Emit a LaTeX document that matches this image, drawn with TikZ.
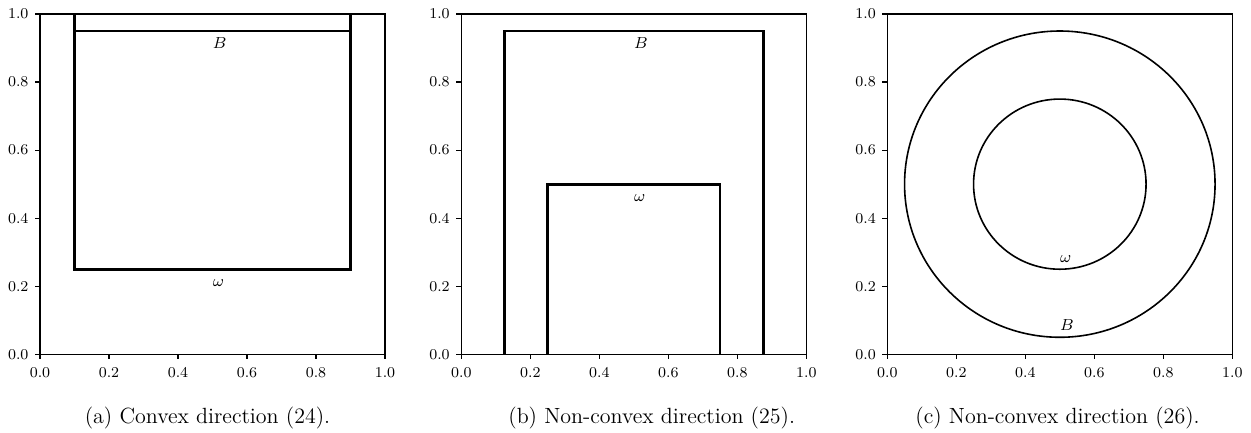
\documentclass[tikz,border=0pt]{standalone}

\begin{document}
\begin{tikzpicture}[x=0.5pt,y=0.5pt,
  spine/.style={line width=0.6pt},
  region/.style={line width=1.4pt},
  ring/.style={line width=0.8pt},
  ticklbl/.style={inner sep=0pt,font=\fontsize{7.5}{9}\selectfont},
  setlbl/.style={inner sep=0pt,anchor=base west,font=\fontsize{8}{9.5}\selectfont},
  capt/.style={inner sep=0pt,anchor=base,font=\fontsize{11}{13}\selectfont}]
  \useasboundingbox (0,0) rectangle (1251,433);
  \foreach \px/\p in {40/a,461.3/b,887.3/c}
  {
    \begin{scope}[shift={(\px,78.7)},x=172.5pt,y=170.15pt]
      \draw[spine] (0,0) rectangle (1,1);
      \foreach \v [count=\k] in {0.0,0.2,0.4,0.6,0.8,1.0}
      {
        \draw[spine] (\v,0) -- ++(0pt,-2.5pt);
        \draw[spine] (0,\v) -- ++(-2.5pt,0pt);
        \node[ticklbl,anchor=north,yshift=-6.2pt] (\p x\k) at (\v,0) {\v};
        \node[ticklbl,anchor=east,xshift=-5.6pt] (\p y\k) at (0,\v) {\v};
      }
    \end{scope}
  }
  % (a)
  \begin{scope}[shift={(40,78.7)},x=172.5pt,y=170.15pt]
    \draw[region] (0.1,1) -- (0.1,0.25) -- (0.9,0.25) -- (0.9,1);
    \draw[region] (0.1,0.95) -- (0.9,0.95);
    \node[setlbl] (aB) at (0.5,0.9) {$B$};
    \node[setlbl] (aw) at (0.5,0.2) {$\omega$};
  \end{scope}
  % (b)
  \begin{scope}[shift={(461.3,78.7)},x=172.5pt,y=170.15pt]
    \draw[region] (0.125,0) -- (0.125,0.95) -- (0.875,0.95) -- (0.875,0);
    \draw[region] (0.25,0) -- (0.25,0.5) -- (0.75,0.5) -- (0.75,0);
    \node[setlbl] (bB) at (0.5,0.9) {$B$};
    \node[setlbl] (bw) at (0.5,0.45) {$\omega$};
  \end{scope}
  % (c)
  \begin{scope}[shift={(887.3,78.7)},x=172.5pt,y=170.15pt]
    \draw[ring] (0.5,0.5) circle [radius=0.45];
    \draw[ring] (0.5,0.5) circle [radius=0.25];
    \node[setlbl] (cB) at (0.5,0.07) {$B$};
    \node[setlbl] (cw) at (0.5,0.27) {$\omega$};
  \end{scope}
  \node[capt] (capa) at (207.5,10) {(a) Convex direction (24).};
  \node[capt] (capb) at (651.7,10) {(b) Non-convex direction (25).};
  \node[capt] (capc) at (1057.5,10) {(c) Non-convex direction (26).};
\end{tikzpicture}
\end{document}
